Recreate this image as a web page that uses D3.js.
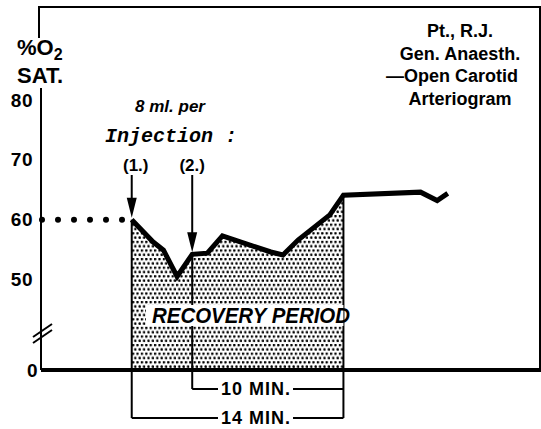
<!DOCTYPE html>
<html>
<head>
<meta charset="utf-8">
<script src="https://cdn.jsdelivr.net/npm/d3@7"></script>
<style>
body { margin: 0; background: #fff; }
svg text { font-family: "Liberation Sans", Arial, sans-serif; font-weight: bold; fill: #000; }
</style>
</head>
<body>
<div id="chart"></div>
<script>
// readings: minutes after injection (1.), % O2 saturation
const minutes = [0, 1.4, 2.1, 3.0, 4.0, 5.0, 6.0, 9.2, 10.0, 11.0, 13.1, 14.0, 19.1, 20.2, 20.9];
const o2_sat  = [60, 56.3, 54.9, 50.5, 54.2, 54.4, 57.3, 54.6, 54.1, 56.6, 60.8, 64.1, 64.6, 63.2, 64.4];

const injections = [0, 4];
const injection_labels = ["(1.)", "(2.)"];
const y_ticks = [0, 50, 60, 70, 80];
const pre_level = 60;
const recovery_end = 14;
const bracket_starts = [4, 0];
const bracket_labels = ["10 MIN.", "14 MIN."];
const title_lines = ["Pt., R.J.", "Gen. Anaesth.", "\u2014Open Carotid", "Arteriogram"];

const width = 541, height = 429;

const svg = d3.select("#chart").append("svg")
    .attr("width", width)
    .attr("height", height);

const xScale = d3.scaleLinear().domain([-6, 27]).range([41, 540]);
// broken axis: 0 -> 50 squeezed
const yScale = d3.scaleLinear().domain([0, 50, 80]).range([370, 279.5, 100]);

const data = minutes.map((m, i) => ({m: m, v: o2_sat[i]}));
const valueAt = t => o2_sat[minutes.indexOf(t)];

const x0 = xScale.range()[0];
const yBase = yScale(0);

// stipple pattern
const pat = svg.append("defs").append("pattern")
    .attr("id", "dots")
    .attr("patternUnits", "userSpaceOnUse")
    .attr("width", 4.4)
    .attr("height", 8.6);
pat.append("circle").attr("cx", 1.1).attr("cy", 1.1).attr("r", 1.3).attr("fill", "#000");
pat.append("circle").attr("cx", 3.3).attr("cy", 5.4).attr("r", 1.3).attr("fill", "#000");

// frame
svg.append("path")
    .attr("d", `M${x0 - 2},38 V7 H${xScale.range()[1]} V${yBase}`)
    .attr("fill", "none")
    .attr("stroke", "#000")
    .attr("stroke-width", 2);

// y axis
svg.append("line")
    .attr("x1", x0).attr("x2", x0)
    .attr("y1", 88).attr("y2", yBase)
    .attr("stroke", "#000").attr("stroke-width", 2);

const yAxis = d3.axisLeft(yScale).tickValues(y_ticks).tickSize(0).tickPadding(8);
const yg = svg.append("g")
    .attr("transform", `translate(${x0},0)`)
    .call(yAxis);
yg.select(".domain").remove();
yg.selectAll("text")
    .style("font-size", "19px")
    .style("letter-spacing", "0.5px")
    .attr("x", d => d == 0 ? -3 : -8);

// axis break
const breakY = yBase - 34;
[0, 6].forEach(off => {
    svg.append("line")
        .attr("x1", x0 - 8).attr("y1", breakY + 7 - off)
        .attr("x2", x0 + 11).attr("y2", breakY - 6 - off)
        .attr("stroke", "#000").attr("stroke-width", 2);
});

// axis title
const yt = svg.append("text").attr("x", 17).attr("y", 55).style("font-size", "22px");
yt.append("tspan").text("%O");
yt.append("tspan").text("2").attr("dy", 5).style("font-size", "16px");
svg.append("text").attr("x", 17).attr("y", 83).style("font-size", "22px").text("SAT.");

// pre-injection dotted level
svg.append("line")
    .attr("x1", x0 + 1).attr("x2", xScale(0) - 8)
    .attr("y1", yScale(pre_level)).attr("y2", yScale(pre_level))
    .attr("stroke", "#000")
    .attr("stroke-width", 6)
    .attr("stroke-linecap", "round")
    .attr("stroke-dasharray", "0,16");

// recovery area
const area = d3.area()
    .x(d => xScale(d.m))
    .y0(yBase)
    .y1(d => yScale(d.v));
svg.append("path")
    .datum(data.filter(d => d.m <= recovery_end))
    .attr("d", area)
    .attr("fill", "url(#dots)");

// baseline
svg.append("line")
    .attr("x1", x0).attr("x2", width)
    .attr("y1", yBase).attr("y2", yBase)
    .attr("stroke", "#000").attr("stroke-width", 4);

// injection arrows
const arrowTop = 175;
injections.forEach((t, i) => {
    const ax = xScale(t);
    const tip = yScale(valueAt(t)) - 2;
    svg.append("line")
        .attr("x1", ax).attr("x2", ax)
        .attr("y1", arrowTop).attr("y2", tip - 10)
        .attr("stroke", "#000").attr("stroke-width", 2);
    svg.append("path")
        .attr("d", `M${ax - 5},${tip - 20} L${ax + 5},${tip - 20} L${ax},${tip} Z`)
        .attr("fill", "#000");
    svg.append("text")
        .attr("x", ax + (i == 0 ? 4 : 0))
        .attr("y", 171)
        .attr("text-anchor", "middle")
        .style("font-size", "17px")
        .text(injection_labels[i]);
});

// brackets under the baseline
const xEnd = xScale(recovery_end);
bracket_starts.forEach((t, i) => {
    const bx = xScale(t);
    const by = 389 + i * 29;
    svg.append("line")
        .attr("x1", bx).attr("x2", bx)
        .attr("y1", yScale(valueAt(t))).attr("y2", by)
        .attr("stroke", "#000").attr("stroke-width", 2);
    const lbl = svg.append("text")
        .attr("x", 256)
        .attr("y", by + 6)
        .attr("text-anchor", "middle")
        .style("font-size", "18px")
        .style("letter-spacing", "1px")
        .text(bracket_labels[i]);
    const w = lbl.node().getComputedTextLength();
    svg.append("line")
        .attr("x1", bx).attr("x2", 256 - w / 2 - 3)
        .attr("y1", by).attr("y2", by)
        .attr("stroke", "#000").attr("stroke-width", 2);
    svg.append("line")
        .attr("x1", 256 + w / 2 + 2).attr("x2", xEnd)
        .attr("y1", by).attr("y2", by)
        .attr("stroke", "#000").attr("stroke-width", 2);
});
svg.append("line")
    .attr("x1", xEnd).attr("x2", xEnd)
    .attr("y1", yScale(valueAt(recovery_end))).attr("y2", 418)
    .attr("stroke", "#000").attr("stroke-width", 2);

// recovery period label on white band
svg.append("rect")
    .attr("x", 146).attr("y", 305)
    .attr("width", xEnd - 146).attr("height", 21)
    .attr("fill", "#fff");
svg.append("text")
    .attr("x", 251).attr("y", 323)
    .attr("text-anchor", "middle")
    .attr("textLength", 198)
    .attr("lengthAdjust", "spacingAndGlyphs")
    .style("font-size", "22px")
    .style("font-style", "italic")
    .text("RECOVERY PERIOD");

// saturation line
svg.append("path")
    .datum(data)
    .attr("d", d3.line().x(d => xScale(d.m)).y(d => yScale(d.v)))
    .attr("fill", "none")
    .attr("stroke", "#000")
    .attr("stroke-width", 5)
    .attr("stroke-linejoin", "miter");

// injection note
svg.append("text")
    .attr("x", 170).attr("y", 112)
    .attr("text-anchor", "middle")
    .style("font-size", "17px")
    .style("font-style", "italic")
    .text("8 ml. per");
svg.append("text")
    .attr("x", 171).attr("y", 142)
    .attr("text-anchor", "middle")
    .style("font-family", "'Liberation Mono', monospace")
    .style("font-size", "20px")
    .style("font-style", "italic")
    .text("Injection :");

// case note, top right
svg.append("g").selectAll("text")
    .data(title_lines)
    .enter()
    .append("text")
        .attr("x", (d, i) => i == 2 ? 452 : 460)
        .attr("y", (d, i) => 37 + i * 22.5)
        .attr("text-anchor", "middle")
        .style("font-size", "18px")
        .text(d => d);
</script>
</body>
</html>
